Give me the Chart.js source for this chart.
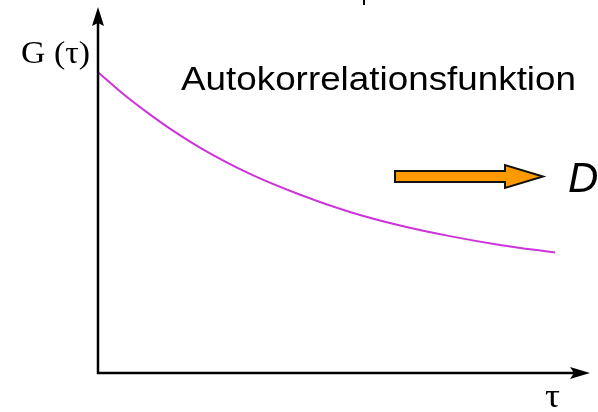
<!DOCTYPE html>
<html>
<head>
<meta charset="utf-8">
<script src="https://cdn.jsdelivr.net/npm/chart.js@4.4.1/dist/chart.umd.min.js"></script>
<style>
html,body{margin:0;padding:0;background:#fff;}
#wrap{width:598px;height:412px;}
</style>
</head>
<body>
<div id="wrap"><canvas id="c" width="598" height="412"></canvas></div>
<script>
// Data (arbitrary units, x 0..10, y 0..10)
const tauValues = [0, 0.55, 1.06, 1.57, 2.07, 3.09, 4.11, 5.12, 6.14, 7.15, 8.17, 9.29];
const gValues   = [8.22, 7.58, 7.06, 6.58, 6.16, 5.44, 4.87, 4.40, 4.03, 3.74, 3.50, 3.29];
const yAxisLabel = 'G (τ)';
const xAxisLabel = 'τ';
const titleText = 'Autokorrelationsfunktion';
const arrowLabel = 'D';

const points = tauValues.map((t, i) => ({x: t, y: gValues[i]}));

function fitText(ctx, text, x, y, font, width) {
  ctx.save();
  ctx.font = font;
  const w = ctx.measureText(text).width;
  ctx.translate(x, y);
  ctx.scale(width / w, 1);
  ctx.fillText(text, 0, 0);
  ctx.restore();
}

const decor = {
  id: 'decor',
  afterDraw(chart) {
    const ctx = chart.ctx;
    const a = chart.chartArea;
    const xs = chart.scales.x, ys = chart.scales.y;
    const x0 = xs.getPixelForValue(0), y0 = ys.getPixelForValue(0);
    ctx.save();
    ctx.strokeStyle = '#000';
    ctx.fillStyle = '#000';
    ctx.lineWidth = 2.5;
    ctx.lineCap = 'butt';
    // y axis
    ctx.beginPath(); ctx.moveTo(x0, y0 + 1); ctx.lineTo(x0, a.top + 12); ctx.stroke();
    ctx.beginPath(); ctx.moveTo(x0, a.top); ctx.lineTo(x0 - 6, a.top + 19); ctx.lineTo(x0, a.top + 16); ctx.lineTo(x0 + 6, a.top + 19); ctx.closePath(); ctx.fill();
    // x axis
    ctx.beginPath(); ctx.moveTo(x0 - 1, y0); ctx.lineTo(a.right - 12, y0); ctx.stroke();
    ctx.beginPath(); ctx.moveTo(a.right, y0); ctx.lineTo(a.right - 20, y0 - 6); ctx.lineTo(a.right - 16, y0); ctx.lineTo(a.right - 20, y0 + 6); ctx.closePath(); ctx.fill();
    // small mark at top
    ctx.lineWidth = 2;
    ctx.beginPath(); ctx.moveTo(364, 0); ctx.lineTo(364, 5); ctx.stroke();

    // texts
    ctx.fillStyle = '#000';
    ctx.textBaseline = 'alphabetic';
    ctx.textAlign = 'left';
    fitText(ctx, yAxisLabel, 21, 63, '31px "Liberation Serif", "Times New Roman", serif', 69);
    fitText(ctx, titleText, 181, 90, '33px "Liberation Sans", Arial, sans-serif', 395);
    fitText(ctx, xAxisLabel, 545, 407, '33px "Liberation Serif", "Times New Roman", serif', 15);
    ctx.font = 'italic 42px "Liberation Sans", Arial, sans-serif';
    ctx.fillText(arrowLabel, 568, 192);

    // orange arrow
    ctx.beginPath();
    ctx.moveTo(395, 171); ctx.lineTo(505, 171); ctx.lineTo(505, 165);
    ctx.lineTo(543, 176.5);
    ctx.lineTo(505, 188); ctx.lineTo(505, 182); ctx.lineTo(395, 182); ctx.closePath();
    ctx.fillStyle = '#FF9900';
    ctx.fill();
    ctx.lineWidth = 2;
    ctx.strokeStyle = '#111';
    ctx.lineJoin = 'miter';
    ctx.stroke();
    ctx.restore();
  }
};

new Chart(document.getElementById('c'), {
  type: 'line',
  data: {
    datasets: [{
      data: points,
      borderColor: '#CC33D9',
      borderWidth: 2,
      pointRadius: 0,
      cubicInterpolationMode: 'monotone',
      fill: false
    }]
  },
  options: {
    responsive: false,
    animation: false,
    layout: {padding: {left: 98, top: 7, right: 8, bottom: 39}},
    plugins: {legend: {display: false}, tooltip: {enabled: false}},
    scales: {
      x: {type: 'linear', min: 0, max: 10, display: false},
      y: {type: 'linear', min: 0, max: 10, display: false}
    }
  },
  plugins: [decor]
});
</script>
</body>
</html>
